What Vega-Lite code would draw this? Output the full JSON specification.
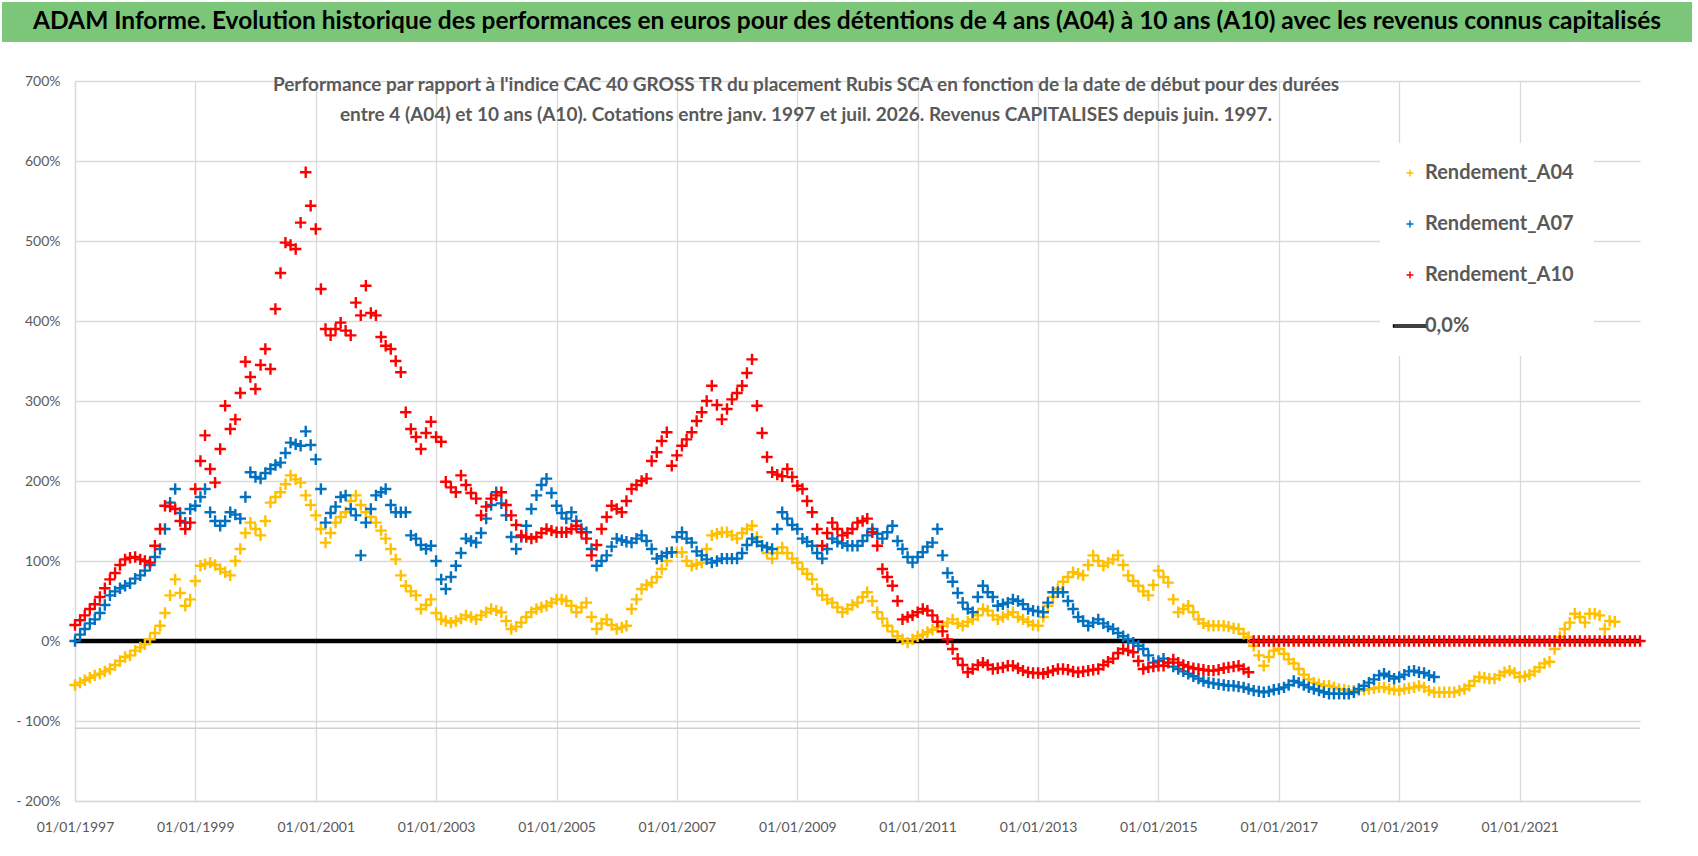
{
  "$schema": "https://vega.github.io/schema/vega-lite/v6.json",
  "background": "white",
  "padding": {"left": 2, "top": 2, "right": 4, "bottom": 4},
  "spacing": 32,
  "config": {
    "view": {"stroke": null},
    "font": "Lato"
  },
  "vconcat": [
    {
      "width": 1690,
      "height": 40,
      "view": {"fill": "#7cc67a", "stroke": null},
      "data": {"values": [{"t": "ADAM Informe. Evolution historique des performances en euros pour des détentions de 4 ans (A04) à 10 ans (A10) avec les revenus connus capitalisés"}]},
      "mark": {"type": "text", "fontSize": 24.5, "fontWeight": "bold", "color": "#000000", "font": "Lato"},
      "encoding": {"text": {"field": "t"}}
    },
    {
      "width": 1640,
      "height": 720,
      "title": {
        "text": [
          "Performance par rapport à l'indice CAC 40 GROSS TR  du placement Rubis SCA en fonction de la date de début pour des durées",
          "entre 4 (A04) et 10 ans (A10).  Cotations entre janv. 1997 et juil. 2026. Revenus CAPITALISES depuis juin. 1997."
        ],
        "anchor": "middle",
        "frame": "group",
        "baseline": "top",
        "offset": -51,
        "dx": -16,
        "font": "Lato",
        "fontSize": 19,
        "fontWeight": "bold",
        "color": "#595959",
        "lineHeight": 30
      },
      "layer": [
        {
          "data": {"values": [{}]},
          "mark": {"type": "rule", "color": "#d0d0d0", "strokeWidth": 1.5},
          "encoding": {
            "x": {"datum": {"year": 1997, "month": 1, "date": 1, "utc": true}, "type": "temporal"},
            "x2": {"datum": {"year": 2023, "month": 1, "date": 1, "utc": true}},
            "y": {"datum": -109, "type": "quantitative"}
          }
        },
        {
          "data": {"values": [{}]},
          "mark": {"type": "rule", "color": "#000000", "strokeWidth": 4.5},
          "encoding": {
            "x": {"datum": {"year": 1997, "month": 1, "date": 1, "utc": true}, "type": "temporal"},
            "x2": {"datum": {"year": 2023, "month": 1, "date": 1, "utc": true}},
            "y": {"datum": 0, "type": "quantitative"}
          }
        },
        {
          "data": {"values": [
{"d":"1997-01","A04":-55,"A07":0,"A10":20},
{"d":"1997-02","A04":-52,"A07":8,"A10":26},
{"d":"1997-03","A04":-49,"A07":15,"A10":32},
{"d":"1997-04","A04":-46,"A07":22,"A10":40},
{"d":"1997-05","A04":-43,"A07":27,"A10":46},
{"d":"1997-06","A04":-41,"A07":35,"A10":55},
{"d":"1997-07","A04":-38,"A07":45,"A10":66},
{"d":"1997-08","A04":-35,"A07":57,"A10":77},
{"d":"1997-09","A04":-30,"A07":62,"A10":85},
{"d":"1997-10","A04":-25,"A07":66,"A10":95},
{"d":"1997-11","A04":-20,"A07":69,"A10":102},
{"d":"1997-12","A04":-18,"A07":72,"A10":104},
{"d":"1998-01","A04":-12,"A07":78,"A10":105},
{"d":"1998-02","A04":-8,"A07":82,"A10":102},
{"d":"1998-03","A04":-4,"A07":88,"A10":100},
{"d":"1998-04","A04":2,"A07":95,"A10":98},
{"d":"1998-05","A04":10,"A07":105,"A10":119},
{"d":"1998-06","A04":19,"A07":115,"A10":140},
{"d":"1998-07","A04":35,"A07":140,"A10":169},
{"d":"1998-08","A04":57,"A07":173,"A10":168},
{"d":"1998-09","A04":77,"A07":190,"A10":165},
{"d":"1998-10","A04":60,"A07":160,"A10":150},
{"d":"1998-11","A04":44,"A07":148,"A10":140},
{"d":"1998-12","A04":52,"A07":165,"A10":148},
{"d":"1999-01","A04":75,"A07":169,"A10":190},
{"d":"1999-02","A04":94,"A07":180,"A10":225},
{"d":"1999-03","A04":96,"A07":190,"A10":257},
{"d":"1999-04","A04":98,"A07":161,"A10":215},
{"d":"1999-05","A04":95,"A07":150,"A10":198},
{"d":"1999-06","A04":90,"A07":144,"A10":240},
{"d":"1999-07","A04":86,"A07":150,"A10":294},
{"d":"1999-08","A04":82,"A07":161,"A10":265},
{"d":"1999-09","A04":100,"A07":158,"A10":277},
{"d":"1999-10","A04":115,"A07":153,"A10":310},
{"d":"1999-11","A04":135,"A07":180,"A10":349},
{"d":"1999-12","A04":148,"A07":211,"A10":330},
{"d":"2000-01","A04":140,"A07":205,"A10":315},
{"d":"2000-02","A04":132,"A07":203,"A10":345},
{"d":"2000-03","A04":150,"A07":210,"A10":365},
{"d":"2000-04","A04":173,"A07":215,"A10":340},
{"d":"2000-05","A04":180,"A07":220,"A10":415},
{"d":"2000-06","A04":186,"A07":223,"A10":460},
{"d":"2000-07","A04":196,"A07":235,"A10":498},
{"d":"2000-08","A04":207,"A07":248,"A10":495},
{"d":"2000-09","A04":202,"A07":246,"A10":490},
{"d":"2000-10","A04":198,"A07":244,"A10":523},
{"d":"2000-11","A04":182,"A07":262,"A10":586},
{"d":"2000-12","A04":170,"A07":245,"A10":544},
{"d":"2001-01","A04":157,"A07":227,"A10":515},
{"d":"2001-02","A04":140,"A07":190,"A10":440},
{"d":"2001-03","A04":123,"A07":148,"A10":390},
{"d":"2001-04","A04":135,"A07":160,"A10":382},
{"d":"2001-05","A04":148,"A07":168,"A10":390},
{"d":"2001-06","A04":155,"A07":180,"A10":398},
{"d":"2001-07","A04":161,"A07":182,"A10":388},
{"d":"2001-08","A04":175,"A07":165,"A10":382},
{"d":"2001-09","A04":182,"A07":157,"A10":423},
{"d":"2001-10","A04":170,"A07":107,"A10":407},
{"d":"2001-11","A04":161,"A07":148,"A10":444},
{"d":"2001-12","A04":155,"A07":165,"A10":410},
{"d":"2002-01","A04":148,"A07":182,"A10":407},
{"d":"2002-02","A04":138,"A07":186,"A10":380},
{"d":"2002-03","A04":128,"A07":190,"A10":369},
{"d":"2002-04","A04":115,"A07":170,"A10":365},
{"d":"2002-05","A04":102,"A07":161,"A10":350},
{"d":"2002-06","A04":82,"A07":161,"A10":336},
{"d":"2002-07","A04":69,"A07":161,"A10":286},
{"d":"2002-08","A04":62,"A07":132,"A10":265},
{"d":"2002-09","A04":57,"A07":128,"A10":255},
{"d":"2002-10","A04":40,"A07":120,"A10":240},
{"d":"2002-11","A04":45,"A07":115,"A10":260},
{"d":"2002-12","A04":52,"A07":119,"A10":274},
{"d":"2003-01","A04":35,"A07":100,"A10":255},
{"d":"2003-02","A04":27,"A07":77,"A10":249},
{"d":"2003-03","A04":25,"A07":65,"A10":199},
{"d":"2003-04","A04":23,"A07":80,"A10":192},
{"d":"2003-05","A04":25,"A07":94,"A10":186},
{"d":"2003-06","A04":28,"A07":110,"A10":207},
{"d":"2003-07","A04":32,"A07":128,"A10":195},
{"d":"2003-08","A04":30,"A07":125,"A10":185},
{"d":"2003-09","A04":27,"A07":123,"A10":178},
{"d":"2003-10","A04":32,"A07":135,"A10":157},
{"d":"2003-11","A04":36,"A07":153,"A10":168},
{"d":"2003-12","A04":40,"A07":170,"A10":178},
{"d":"2004-01","A04":38,"A07":186,"A10":182},
{"d":"2004-02","A04":36,"A07":172,"A10":186},
{"d":"2004-03","A04":25,"A07":157,"A10":170},
{"d":"2004-04","A04":15,"A07":130,"A10":157},
{"d":"2004-05","A04":18,"A07":115,"A10":145},
{"d":"2004-06","A04":23,"A07":130,"A10":132},
{"d":"2004-07","A04":30,"A07":144,"A10":130},
{"d":"2004-08","A04":36,"A07":165,"A10":128},
{"d":"2004-09","A04":40,"A07":182,"A10":130},
{"d":"2004-10","A04":42,"A07":195,"A10":135},
{"d":"2004-11","A04":44,"A07":203,"A10":140},
{"d":"2004-12","A04":48,"A07":185,"A10":138},
{"d":"2005-01","A04":52,"A07":169,"A10":136},
{"d":"2005-02","A04":52,"A07":160,"A10":136},
{"d":"2005-03","A04":50,"A07":153,"A10":136},
{"d":"2005-04","A04":44,"A07":161,"A10":140},
{"d":"2005-05","A04":36,"A07":150,"A10":144},
{"d":"2005-06","A04":42,"A07":140,"A10":136},
{"d":"2005-07","A04":48,"A07":136,"A10":128},
{"d":"2005-08","A04":30,"A07":115,"A10":107},
{"d":"2005-09","A04":15,"A07":94,"A10":120},
{"d":"2005-10","A04":22,"A07":100,"A10":140},
{"d":"2005-11","A04":27,"A07":107,"A10":155},
{"d":"2005-12","A04":20,"A07":118,"A10":169},
{"d":"2006-01","A04":15,"A07":128,"A10":165},
{"d":"2006-02","A04":17,"A07":126,"A10":161},
{"d":"2006-03","A04":19,"A07":124,"A10":175},
{"d":"2006-04","A04":40,"A07":123,"A10":190},
{"d":"2006-05","A04":52,"A07":128,"A10":195},
{"d":"2006-06","A04":65,"A07":132,"A10":200},
{"d":"2006-07","A04":70,"A07":125,"A10":203},
{"d":"2006-08","A04":73,"A07":115,"A10":225},
{"d":"2006-09","A04":80,"A07":103,"A10":236},
{"d":"2006-10","A04":90,"A07":106,"A10":250},
{"d":"2006-11","A04":100,"A07":110,"A10":261},
{"d":"2006-12","A04":111,"A07":111,"A10":219},
{"d":"2007-01","A04":111,"A07":130,"A10":232},
{"d":"2007-02","A04":111,"A07":136,"A10":244},
{"d":"2007-03","A04":100,"A07":128,"A10":252},
{"d":"2007-04","A04":94,"A07":123,"A10":261},
{"d":"2007-05","A04":96,"A07":112,"A10":275},
{"d":"2007-06","A04":98,"A07":107,"A10":286},
{"d":"2007-07","A04":115,"A07":102,"A10":300},
{"d":"2007-08","A04":132,"A07":98,"A10":319},
{"d":"2007-09","A04":134,"A07":100,"A10":295},
{"d":"2007-10","A04":136,"A07":103,"A10":277},
{"d":"2007-11","A04":136,"A07":103,"A10":290},
{"d":"2007-12","A04":132,"A07":103,"A10":302},
{"d":"2008-01","A04":128,"A07":103,"A10":310},
{"d":"2008-02","A04":135,"A07":110,"A10":319},
{"d":"2008-03","A04":140,"A07":120,"A10":335},
{"d":"2008-04","A04":144,"A07":128,"A10":352},
{"d":"2008-05","A04":130,"A07":124,"A10":294},
{"d":"2008-06","A04":119,"A07":119,"A10":260},
{"d":"2008-07","A04":110,"A07":117,"A10":230},
{"d":"2008-08","A04":103,"A07":115,"A10":211},
{"d":"2008-09","A04":110,"A07":140,"A10":208},
{"d":"2008-10","A04":117,"A07":161,"A10":206},
{"d":"2008-11","A04":110,"A07":153,"A10":215},
{"d":"2008-12","A04":103,"A07":145,"A10":205},
{"d":"2009-01","A04":98,"A07":140,"A10":194},
{"d":"2009-02","A04":90,"A07":128,"A10":190},
{"d":"2009-03","A04":84,"A07":124,"A10":175},
{"d":"2009-04","A04":77,"A07":119,"A10":161},
{"d":"2009-05","A04":65,"A07":110,"A10":140},
{"d":"2009-06","A04":57,"A07":103,"A10":119},
{"d":"2009-07","A04":52,"A07":115,"A10":135},
{"d":"2009-08","A04":48,"A07":128,"A10":148},
{"d":"2009-09","A04":42,"A07":124,"A10":140},
{"d":"2009-10","A04":36,"A07":122,"A10":132},
{"d":"2009-11","A04":40,"A07":119,"A10":135},
{"d":"2009-12","A04":45,"A07":119,"A10":140},
{"d":"2010-01","A04":48,"A07":119,"A10":148},
{"d":"2010-02","A04":55,"A07":125,"A10":150},
{"d":"2010-03","A04":61,"A07":132,"A10":153},
{"d":"2010-04","A04":50,"A07":140,"A10":136},
{"d":"2010-05","A04":36,"A07":134,"A10":119},
{"d":"2010-06","A04":28,"A07":128,"A10":90},
{"d":"2010-07","A04":19,"A07":136,"A10":80},
{"d":"2010-08","A04":12,"A07":144,"A10":69},
{"d":"2010-09","A04":6,"A07":125,"A10":50},
{"d":"2010-10","A04":2,"A07":115,"A10":27},
{"d":"2010-11","A04":-2,"A07":105,"A10":30},
{"d":"2010-12","A04":2,"A07":98,"A10":32},
{"d":"2011-01","A04":6,"A07":105,"A10":36},
{"d":"2011-02","A04":8,"A07":111,"A10":40},
{"d":"2011-03","A04":11,"A07":118,"A10":38},
{"d":"2011-04","A04":14,"A07":123,"A10":32},
{"d":"2011-05","A04":17,"A07":140,"A10":24},
{"d":"2011-06","A04":19,"A07":107,"A10":12},
{"d":"2011-07","A04":23,"A07":85,"A10":2},
{"d":"2011-08","A04":27,"A07":74,"A10":-10},
{"d":"2011-09","A04":22,"A07":60,"A10":-22},
{"d":"2011-10","A04":19,"A07":48,"A10":-30},
{"d":"2011-11","A04":24,"A07":40,"A10":-39},
{"d":"2011-12","A04":27,"A07":36,"A10":-35},
{"d":"2012-01","A04":32,"A07":55,"A10":-30},
{"d":"2012-02","A04":40,"A07":69,"A10":-27},
{"d":"2012-03","A04":38,"A07":61,"A10":-30},
{"d":"2012-04","A04":32,"A07":55,"A10":-35},
{"d":"2012-05","A04":27,"A07":44,"A10":-34},
{"d":"2012-06","A04":30,"A07":46,"A10":-33},
{"d":"2012-07","A04":33,"A07":48,"A10":-31},
{"d":"2012-08","A04":36,"A07":52,"A10":-31},
{"d":"2012-09","A04":30,"A07":50,"A10":-34},
{"d":"2012-10","A04":27,"A07":46,"A10":-37},
{"d":"2012-11","A04":24,"A07":40,"A10":-39},
{"d":"2012-12","A04":20,"A07":38,"A10":-40},
{"d":"2013-01","A04":19,"A07":37,"A10":-40},
{"d":"2013-02","A04":30,"A07":36,"A10":-41},
{"d":"2013-03","A04":44,"A07":48,"A10":-39},
{"d":"2013-04","A04":55,"A07":61,"A10":-37},
{"d":"2013-05","A04":65,"A07":61,"A10":-35},
{"d":"2013-06","A04":74,"A07":61,"A10":-35},
{"d":"2013-07","A04":80,"A07":50,"A10":-36},
{"d":"2013-08","A04":86,"A07":40,"A10":-38},
{"d":"2013-09","A04":84,"A07":30,"A10":-39},
{"d":"2013-10","A04":82,"A07":25,"A10":-38},
{"d":"2013-11","A04":95,"A07":19,"A10":-37},
{"d":"2013-12","A04":107,"A07":23,"A10":-36},
{"d":"2014-01","A04":100,"A07":27,"A10":-35},
{"d":"2014-02","A04":94,"A07":22,"A10":-30},
{"d":"2014-03","A04":98,"A07":18,"A10":-26},
{"d":"2014-04","A04":102,"A07":15,"A10":-22},
{"d":"2014-05","A04":107,"A07":10,"A10":-15},
{"d":"2014-06","A04":95,"A07":6,"A10":-10},
{"d":"2014-07","A04":82,"A07":2,"A10":-12},
{"d":"2014-08","A04":75,"A07":-2,"A10":-14},
{"d":"2014-09","A04":69,"A07":-6,"A10":-25},
{"d":"2014-10","A04":62,"A07":-10,"A10":-35},
{"d":"2014-11","A04":57,"A07":-18,"A10":-33},
{"d":"2014-12","A04":70,"A07":-27,"A10":-32},
{"d":"2015-01","A04":88,"A07":-25,"A10":-31},
{"d":"2015-02","A04":80,"A07":-22,"A10":-31},
{"d":"2015-03","A04":73,"A07":-27,"A10":-27},
{"d":"2015-04","A04":52,"A07":-32,"A10":-23},
{"d":"2015-05","A04":36,"A07":-35,"A10":-27},
{"d":"2015-06","A04":40,"A07":-38,"A10":-30},
{"d":"2015-07","A04":44,"A07":-41,"A10":-32},
{"d":"2015-08","A04":36,"A07":-44,"A10":-34},
{"d":"2015-09","A04":27,"A07":-47,"A10":-35},
{"d":"2015-10","A04":22,"A07":-50,"A10":-36},
{"d":"2015-11","A04":19,"A07":-52,"A10":-37},
{"d":"2015-12","A04":19,"A07":-53,"A10":-37},
{"d":"2016-01","A04":19,"A07":-54,"A10":-36},
{"d":"2016-02","A04":19,"A07":-55,"A10":-34},
{"d":"2016-03","A04":18,"A07":-56,"A10":-33},
{"d":"2016-04","A04":16,"A07":-56,"A10":-32},
{"d":"2016-05","A04":15,"A07":-57,"A10":-31},
{"d":"2016-06","A04":9,"A07":-58,"A10":-35},
{"d":"2016-07","A04":5,"A07":-60,"A10":-39},
{"d":"2016-08","A04":-6,"A07":-62,"A10":0},
{"d":"2016-09","A04":-18,"A07":-63,"A10":0},
{"d":"2016-10","A04":-31,"A07":-64,"A10":0},
{"d":"2016-11","A04":-20,"A07":-63,"A10":0},
{"d":"2016-12","A04":-12,"A07":-61,"A10":0},
{"d":"2017-01","A04":-10,"A07":-60,"A10":0},
{"d":"2017-02","A04":-16,"A07":-58,"A10":0},
{"d":"2017-03","A04":-23,"A07":-55,"A10":0},
{"d":"2017-04","A04":-28,"A07":-50,"A10":0},
{"d":"2017-05","A04":-35,"A07":-52,"A10":0},
{"d":"2017-06","A04":-42,"A07":-55,"A10":0},
{"d":"2017-07","A04":-48,"A07":-58,"A10":0},
{"d":"2017-08","A04":-52,"A07":-60,"A10":0},
{"d":"2017-09","A04":-54,"A07":-62,"A10":0},
{"d":"2017-10","A04":-56,"A07":-64,"A10":0},
{"d":"2017-11","A04":-56,"A07":-66,"A10":0},
{"d":"2017-12","A04":-58,"A07":-66,"A10":0},
{"d":"2018-01","A04":-60,"A07":-66,"A10":0},
{"d":"2018-02","A04":-61,"A07":-66,"A10":0},
{"d":"2018-03","A04":-62,"A07":-66,"A10":0},
{"d":"2018-04","A04":-62,"A07":-64,"A10":0},
{"d":"2018-05","A04":-62,"A07":-60,"A10":0},
{"d":"2018-06","A04":-61,"A07":-56,"A10":0},
{"d":"2018-07","A04":-60,"A07":-52,"A10":0},
{"d":"2018-08","A04":-59,"A07":-48,"A10":0},
{"d":"2018-09","A04":-58,"A07":-43,"A10":0},
{"d":"2018-10","A04":-58,"A07":-41,"A10":0},
{"d":"2018-11","A04":-60,"A07":-44,"A10":0},
{"d":"2018-12","A04":-61,"A07":-47,"A10":0},
{"d":"2019-01","A04":-62,"A07":-45,"A10":0},
{"d":"2019-02","A04":-60,"A07":-42,"A10":0},
{"d":"2019-03","A04":-59,"A07":-38,"A10":0},
{"d":"2019-04","A04":-58,"A07":-37,"A10":0},
{"d":"2019-05","A04":-56,"A07":-39,"A10":0},
{"d":"2019-06","A04":-58,"A07":-40,"A10":0},
{"d":"2019-07","A04":-62,"A07":-43,"A10":0},
{"d":"2019-08","A04":-64,"A07":-45,"A10":0},
{"d":"2019-09","A04":-64,"A10":0},
{"d":"2019-10","A04":-64,"A10":0},
{"d":"2019-11","A04":-64,"A10":0},
{"d":"2019-12","A04":-64,"A10":0},
{"d":"2020-01","A04":-62,"A10":0},
{"d":"2020-02","A04":-60,"A10":0},
{"d":"2020-03","A04":-56,"A10":0},
{"d":"2020-04","A04":-50,"A10":0},
{"d":"2020-05","A04":-45,"A10":0},
{"d":"2020-06","A04":-46,"A10":0},
{"d":"2020-07","A04":-47,"A10":0},
{"d":"2020-08","A04":-47,"A10":0},
{"d":"2020-09","A04":-43,"A10":0},
{"d":"2020-10","A04":-39,"A10":0},
{"d":"2020-11","A04":-37,"A10":0},
{"d":"2020-12","A04":-40,"A10":0},
{"d":"2021-01","A04":-45,"A10":0},
{"d":"2021-02","A04":-44,"A10":0},
{"d":"2021-03","A04":-42,"A10":0},
{"d":"2021-04","A04":-38,"A10":0},
{"d":"2021-05","A04":-33,"A10":0},
{"d":"2021-06","A04":-28,"A10":0},
{"d":"2021-07","A04":-26,"A10":0},
{"d":"2021-08","A04":-10,"A10":0},
{"d":"2021-09","A04":5,"A10":0},
{"d":"2021-10","A04":15,"A10":0},
{"d":"2021-11","A04":23,"A10":0},
{"d":"2021-12","A04":34,"A10":0},
{"d":"2022-01","A04":30,"A10":0},
{"d":"2022-02","A04":23,"A10":0},
{"d":"2022-03","A04":34,"A10":0},
{"d":"2022-04","A04":34,"A10":0},
{"d":"2022-05","A04":32,"A10":0},
{"d":"2022-06","A04":15,"A10":0},
{"d":"2022-07","A04":25,"A10":0},
{"d":"2022-08","A04":24,"A10":0},
{"d":"2022-09","A10":0},
{"d":"2022-10","A10":0},
{"d":"2022-11","A10":0},
{"d":"2022-12","A10":0},
{"d":"2023-01","A10":0}
          ]},
          "transform": [
            {"fold": ["A04", "A07", "A10"], "as": ["serie", "v"]},
            {"filter": "isValid(datum.v)"}
          ],
          "mark": {"type": "point", "filled": false, "strokeWidth": 2.4, "size": 130, "opacity": 1},
          "encoding": {
            "x": {
              "field": "d",
              "type": "temporal",
              "scale": {
                "type": "utc",
                "domain": [{"year": 1997, "month": 1, "date": 1, "utc": true}, {"year": 2023, "month": 1, "date": 1, "utc": true}],
                "range": [73, 1638]
              },
              "axis": {
                "title": null,
                "values": [
                  {"year": 1997, "month": 1, "date": 1, "utc": true},
                  {"year": 1999, "month": 1, "date": 1, "utc": true},
                  {"year": 2001, "month": 1, "date": 1, "utc": true},
                  {"year": 2003, "month": 1, "date": 1, "utc": true},
                  {"year": 2005, "month": 1, "date": 1, "utc": true},
                  {"year": 2007, "month": 1, "date": 1, "utc": true},
                  {"year": 2009, "month": 1, "date": 1, "utc": true},
                  {"year": 2011, "month": 1, "date": 1, "utc": true},
                  {"year": 2013, "month": 1, "date": 1, "utc": true},
                  {"year": 2015, "month": 1, "date": 1, "utc": true},
                  {"year": 2017, "month": 1, "date": 1, "utc": true},
                  {"year": 2019, "month": 1, "date": 1, "utc": true},
                  {"year": 2021, "month": 1, "date": 1, "utc": true}
                ],
                "labelExpr": "utcFormat(datum.value, '%d/%m/%Y')",
                "labelFont": "Lato",
                "labelFontSize": 14,
                "labelColor": "#595959",
                "labelPadding": 19,
                "labelAngle": 0,
                "labelOverlap": false,
                "labelFlush": false,
                "ticks": false,
                "grid": true,
                "gridColor": "#d9d9d9",
                "gridWidth": 1.3,
                "domainColor": "#d9d9d9",
                "domainWidth": 1.3
              }
            },
            "y": {
              "field": "v",
              "type": "quantitative",
              "scale": {"domain": [-200, 700], "nice": false, "zero": false},
              "axis": {
                "title": null,
                "offset": -73,
                "values": [-200, -100, 0, 100, 200, 300, 400, 500, 600, 700],
                "labelExpr": "datum.value < 0 ? '- ' + abs(datum.value) + '%' : datum.value + '%'",
                "labelFont": "Lato",
                "labelFontSize": 14,
                "labelColor": "#595959",
                "labelPadding": 15,
                "ticks": false,
                "grid": true,
                "gridColor": "#d9d9d9",
                "gridWidth": 1.3,
                "domainColor": "#d9d9d9",
                "domainWidth": 1.3
              }
            },
            "color": {
              "field": "serie",
              "type": "nominal",
              "scale": {"domain": ["A04", "A07", "A10", "0,0%"], "range": ["#FFC000", "#0070C0", "#FF0000", "#000000"]},
              "legend": {
                "title": null,
                "orient": "none",
                "legendX": 1378,
                "legendY": 141,
                "padding": 20,
                "fillColor": "white",
                "symbolSize": 49,
                "symbolStrokeWidth": 1.5,
                "labelFont": "Lato",
                "labelFontSize": 20,
                "labelFontWeight": "bold",
                "labelColor": "#595959",
                "labelOffset": 5,
                "labelLimit": 400,
                "rowPadding": 31,
                "labelExpr": "datum.label == '0,0%' ? '0,0%' : 'Rendement_' + datum.label"
              }
            },
            "shape": {
              "field": "serie",
              "type": "nominal",
              "scale": {
                "domain": ["A04", "A07", "A10", "0,0%"],
                "range": ["M-1,0H1M0,-1V1", "M-1,0H1M0,-1V1", "M-1,0H1M0,-1V1", "M-4.7,-0.3H4.7V0.3H-4.7Z"]
              },
              "legend": {
                "title": null,
                "orient": "none",
                "legendX": 1378,
                "legendY": 141,
                "padding": 20,
                "fillColor": "white",
                "symbolSize": 49,
                "symbolStrokeWidth": 1.5,
                "labelFont": "Lato",
                "labelFontSize": 20,
                "labelFontWeight": "bold",
                "labelColor": "#595959",
                "labelOffset": 5,
                "labelLimit": 400,
                "rowPadding": 31,
                "labelExpr": "datum.label == '0,0%' ? '0,0%' : 'Rendement_' + datum.label"
              }
            },
            "order": {"field": "serie", "type": "ordinal"}
          }
        }
      ]
    }
  ]
}
